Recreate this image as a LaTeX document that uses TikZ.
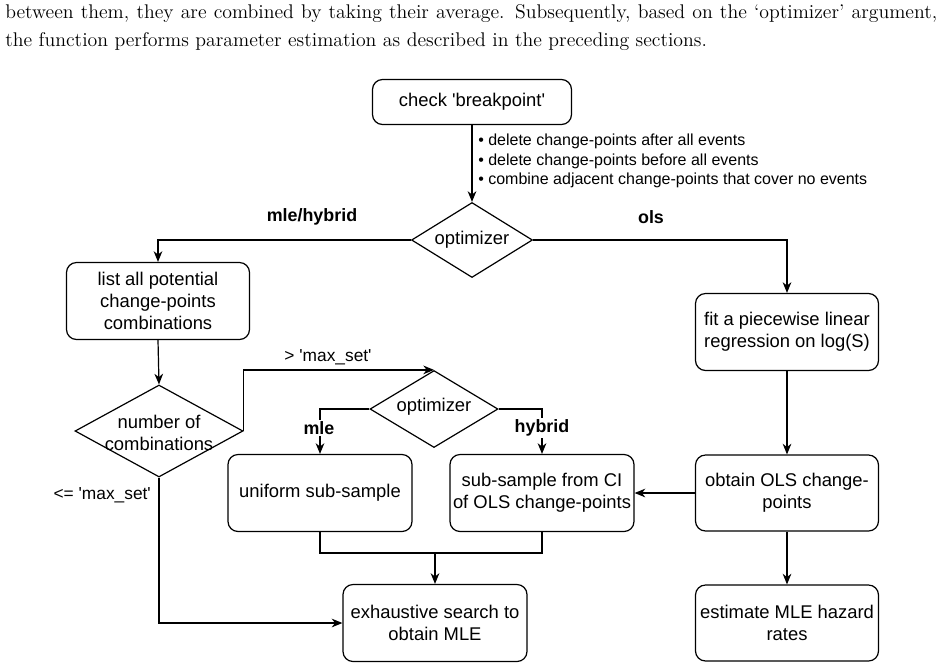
\documentclass[tikz,border=0pt]{standalone}
\usepackage{fontspec}
\usetikzlibrary{shapes.geometric,arrows.meta}
\newfontfamily\arialf{Liberation Sans}[Ligatures=TeXOff]
\newlength\mylen
\AtBeginDocument{%
  \settowidth{\mylen}{\normalfont\fontsize{10}{12}\selectfont the function performs parameter estimation as described in the preceding sections.}%
  \pgfmathsetmacro{\fs}{10*537.75/\mylen}}
\begin{document}
\begin{tikzpicture}[x=0.75pt,y=-0.75pt,
  box/.style={draw,line width=0.9pt,rounded corners=7.5pt,align=center,inner sep=2pt,
    font=\arialf\fontsize{13.8}{16.3}\selectfont},
  dia/.style={draw,line width=0.9pt,diamond,inner sep=0pt},
  dtxt/.style={font=\arialf\fontsize{13.8}{16.3}\selectfont,align=center,inner sep=1pt},
  txt/.style={font=\arialf\fontsize{13}{15.5}\selectfont,align=center,inner sep=1pt},
  btxt/.style={font=\arialf\bfseries\fontsize{13.4}{15.5}\selectfont,inner sep=1pt},
  arr/.style={line width=0.9pt,-{Stealth[length=8pt,width=6.5pt,inset=2.5pt]}},
  ln/.style={line width=0.9pt}]
\useasboundingbox (0,0) rectangle (946,669);
% top text
\node[anchor=base west,inner sep=0pt,font=\fontsize{\fs}{\fs}\selectfont] (t1) at (5,18)
  {\makebox[699pt][s]{between them, they are combined by taking their average. Subsequently, based on the `optimizer' argument,}};
\node[anchor=base west,inner sep=0pt,font=\fontsize{\fs}{\fs}\selectfont] (t2) at (5,46)
  {the function performs parameter estimation as described in the preceding sections.};
% boxes
\node[box,minimum width=149.25pt,minimum height=33.75pt] (check) at (472,102) {check 'breakpoint'};
\node[box,minimum width=137.25pt,minimum height=57.75pt] (list) at (158,301) {list all potential\\change-points\\combinations};
\node[box,minimum width=137.25pt,minimum height=57.75pt] (fit) at (787,332) {fit a piecewise linear\\regression on log(S)};
\node[box,minimum width=137.25pt,minimum height=57pt] (obtain) at (787,493) {obtain OLS change-\\points};
\node[box,minimum width=137.25pt,minimum height=57pt] (est) at (787,623) {estimate MLE hazard\\rates};
\node[box,minimum width=138pt,minimum height=57.75pt] (unif) at (320,493) {uniform sub-sample};
\node[box,minimum width=138pt,minimum height=57.75pt] (subs) at (542,493) {sub-sample from CI\\of OLS change-points};
\node[box,minimum width=138pt,minimum height=57.75pt] (exh) at (435,623) {exhaustive search to\\obtain MLE};
% diamonds
\node[dia,minimum width=90.75pt,minimum height=56.25pt] (opt1) at (472,240) {};
\node[dtxt] (opt1t) at (opt1) {optimizer};
\node[dia,minimum width=126pt,minimum height=69pt] (num) at (159,431) {};
\node[dtxt] (numt) at (159,433) {number of\\combinations};
\node[dia,minimum width=96pt,minimum height=57.75pt] (opt2) at (434,409) {};
\node[dtxt] (opt2t) at (434,407) {optimizer};
% bullet note
\node[anchor=west,align=left,inner sep=0pt,font=\arialf\fontsize{12}{14.6}\selectfont] (note) at (478,161)
  {\textbullet{} delete change-points after all events\\
   \textbullet{} delete change-points before all events\\
   \textbullet{} combine adjacent change-points that cover no events};
% connectors
\draw[arr] (check.south) -- (opt1.north);
\draw[arr] (opt1.west) -| (list.north);
\draw[arr] (opt1.east) -| (fit.north);
\draw[arr] (fit.south) -- (obtain.north);
\draw[arr] (obtain.west) -- (subs.east);
\draw[arr] (obtain.south) -- (est.north);
\draw[arr] (list.south) -- (num.north);
\draw[arr] (num.east) |- (opt2.north);
\draw[arr] (opt2.west) -| (unif.north);
\draw[arr] (opt2.east) -| (subs.north);
\coordinate (join) at (exh.north |- 0,553);
\draw[ln] (unif.south) |- (join) -| (subs.south);
\draw[arr] (join) -- (exh.north);
\draw[arr] (num.south) |- (exh.west);
% labels
\node[btxt] (lmh) at (312,217) {mle/hybrid};
\node[btxt] (lols) at (651,217) {ols};
\node[txt] (lgt) at (328,357) {> 'max\_set'};
\node[txt,anchor=west] (lle) at (52,495) {<= 'max\_set'};
\node[btxt,fill=white] (lmle) at (319,428) {mle};
\node[btxt,fill=white] (lhyb) at (542,428) {hybrid};
\end{tikzpicture}
\end{document}
